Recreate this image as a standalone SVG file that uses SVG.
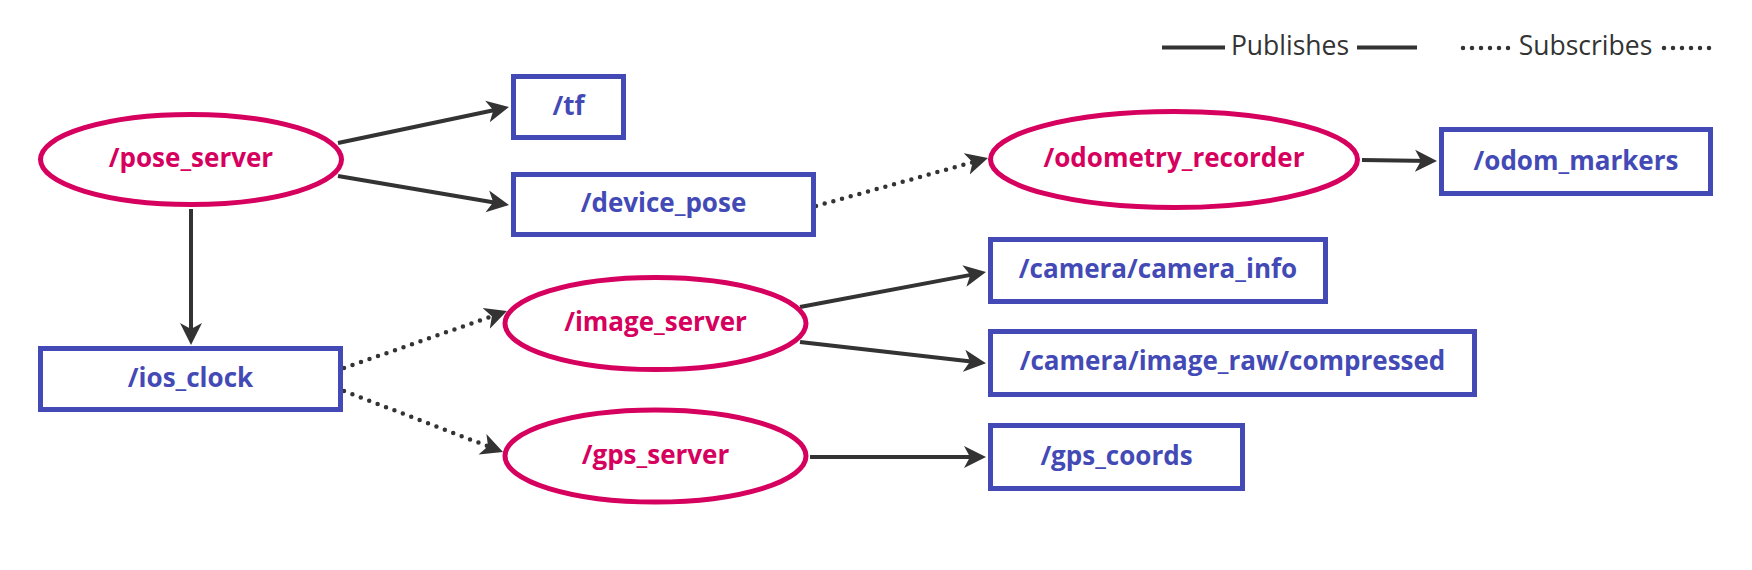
<svg xmlns="http://www.w3.org/2000/svg" width="1752" height="570" viewBox="0 0 1752 570">
<style>
.node ellipse{fill:#fff;stroke:#D6005E;stroke-width:5}
.node rect{fill:#fff;stroke:#434AB6;stroke-width:5}
.nt{font-family:"Open Sans","Liberation Sans",sans-serif;font-weight:bold;font-size:26px;text-anchor:middle}
.pink{fill:#D6005E}
.blue{fill:#434AB6}
.pub{fill:none;stroke:#333;stroke-width:4}
.sub{fill:none;stroke:#333;stroke-width:4.5;stroke-dasharray:0 9;stroke-linecap:round}
.leg{font-family:"Open Sans","Liberation Sans",sans-serif;font-size:26.5px;fill:#333;text-anchor:middle}
</style>
<defs>
<marker id="ah" markerUnits="userSpaceOnUse" markerWidth="24" markerHeight="24" refX="16" refY="11" orient="auto" viewBox="0 0 24 22">
<path d="M0,0 L22,11 L0,22 L6,11 Z" fill="#333"/>
</marker>
</defs>
<rect width="1752" height="570" fill="#fff"/>
<g id="legend">
<line class="pub" x1="1162" y1="47.5" x2="1225" y2="47.5"/>
<text class="leg" x="1290" y="55">Publishes</text>
<line class="pub" x1="1357" y1="47.5" x2="1417" y2="47.5"/>
<line class="sub" x1="1463" y1="48" x2="1509" y2="48"/>
<text class="leg" x="1585.5" y="55">Subscribes</text>
<line class="sub" x1="1664" y1="48" x2="1714" y2="48"/>
</g>
<g id="connectors">
<line class="pub" x1="338" y1="143" x2="503.1" y2="108.2" marker-end="url(#ah)"/>
<line class="pub" x1="338" y1="176" x2="503.1" y2="204" marker-end="url(#ah)"/>
<line class="pub" x1="191" y1="209" x2="191" y2="339" marker-end="url(#ah)"/>
<line class="sub" x1="344" y1="368" x2="501.3" y2="313" marker-end="url(#ah)"/>
<line class="sub" x1="344" y1="391" x2="497.4" y2="449.9" marker-end="url(#ah)"/>
<line class="sub" x1="816" y1="206" x2="982.2" y2="159.6" marker-end="url(#ah)"/>
<line class="pub" x1="1362" y1="160" x2="1431" y2="161" marker-end="url(#ah)"/>
<line class="pub" x1="800" y1="307" x2="980.1" y2="273.1" marker-end="url(#ah)"/>
<line class="pub" x1="800" y1="342" x2="980" y2="362.6" marker-end="url(#ah)"/>
<line class="pub" x1="810" y1="457" x2="980" y2="457" marker-end="url(#ah)"/>
</g>
<g id="pose_server" class="node">
<ellipse cx="191" cy="159.5" rx="150.5" ry="45"/>
<text class="nt pink" x="191" y="167">/pose_server</text>
</g>
<g id="tf" class="node">
<rect x="513.5" y="76.5" width="110" height="61"/>
<text class="nt blue" x="568.5" y="115">/tf</text>
</g>
<g id="device_pose" class="node">
<rect x="513.5" y="174.5" width="300" height="60"/>
<text class="nt blue" x="663.5" y="212">/device_pose</text>
</g>
<g id="ios_clock" class="node">
<rect x="40.5" y="348.5" width="300" height="61"/>
<text class="nt blue" x="190.5" y="387">/ios_clock</text>
</g>
<g id="image_server" class="node">
<ellipse cx="655.5" cy="323.5" rx="150.5" ry="46"/>
<text class="nt pink" x="655.5" y="331">/image_server</text>
</g>
<g id="gps_server" class="node">
<ellipse cx="655.5" cy="456" rx="150.5" ry="46"/>
<text class="nt pink" x="655.5" y="464">/gps_server</text>
</g>
<g id="odometry_recorder" class="node">
<ellipse cx="1174" cy="159.5" rx="183.5" ry="48"/>
<text class="nt pink" x="1174" y="167">/odometry_recorder</text>
</g>
<g id="odom_markers" class="node">
<rect x="1441.5" y="129.5" width="269" height="64"/>
<text class="nt blue" x="1576" y="169.5">/odom_markers</text>
</g>
<g id="camera_info" class="node">
<rect x="990.5" y="239.5" width="335" height="62"/>
<text class="nt blue" x="1158" y="278">/camera/camera_info</text>
</g>
<g id="image_raw_compressed" class="node">
<rect x="990.5" y="331.5" width="484" height="63"/>
<text class="nt blue" x="1232.5" y="370">/camera/image_raw/compressed</text>
</g>
<g id="gps_coords" class="node">
<rect x="990.5" y="425.5" width="252" height="63"/>
<text class="nt blue" x="1116.5" y="464.5">/gps_coords</text>
</g>
</svg>
